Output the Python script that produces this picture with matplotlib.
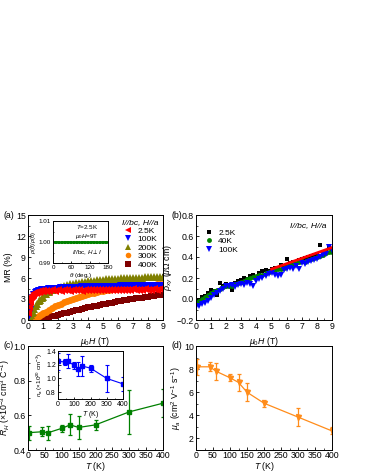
import matplotlib
matplotlib.use("Agg")
import matplotlib.pyplot as plt
from matplotlib.ticker import MultipleLocator, AutoMinorLocator

plt.rcParams['font.family'] = ['Liberation Sans', 'DejaVu Sans']
plt.rcParams['mathtext.fontset'] = 'custom'
plt.rcParams['mathtext.rm'] = 'Liberation Sans'
plt.rcParams['mathtext.it'] = 'Liberation Sans:italic'
plt.rcParams['font.size'] = 6.3

# ---- (a) MR vs field ----
H_mr = [0.02, 0.05, 0.1, 0.15, 0.2, 0.25, 0.3, 0.4, 0.5, 0.6, 0.7, 0.8, 0.9, 1.0,
        1.2, 1.4, 1.6, 1.8, 2.0, 2.2, 2.4, 2.6, 2.8, 3.0,
        3.2, 3.4, 3.6, 3.8, 4.0, 4.2, 4.4, 4.6, 4.8, 5.0,
        5.2, 5.4, 5.6, 5.8, 6.0, 6.2, 6.4, 6.6, 6.8, 7.0,
        7.2, 7.4, 7.6, 7.8, 8.0, 8.2, 8.4, 8.6, 8.8, 9.0]
mr_2p5K = [1.0, 1.9, 2.6, 3.0, 3.3, 3.5, 3.6, 3.8, 3.9, 4.0, 4.05, 4.1, 4.1, 4.15,
           4.2, 4.15, 4.25, 4.2, 4.3, 4.2, 4.25, 4.3, 4.2, 4.3,
           4.25, 4.3, 4.2, 4.35, 4.25, 4.3, 4.25, 4.35, 4.3, 4.25,
           4.35, 4.3, 4.3, 4.35, 4.25, 4.35, 4.3, 4.35, 4.3, 4.4,
           4.3, 4.35, 4.3, 4.4, 4.35, 4.3, 4.4, 4.35, 4.4, 4.35]
mr_100K = [0.3, 0.8, 1.5, 2.1, 2.6, 2.9, 3.2, 3.6, 3.85, 4.0, 4.1, 4.2, 4.25, 4.3,
           4.35, 4.4, 4.45, 4.48, 4.5, 4.52, 4.55, 4.57, 4.58, 4.6,
           4.62, 4.63, 4.65, 4.66, 4.67, 4.68, 4.7, 4.71, 4.72, 4.73,
           4.74, 4.75, 4.76, 4.77, 4.78, 4.79, 4.8, 4.8, 4.81, 4.82,
           4.83, 4.84, 4.85, 4.86, 4.86, 4.87, 4.88, 4.89, 4.9, 4.9]
mr_200K = [0.0, 0.1, 0.3, 0.5, 0.7, 0.95, 1.2, 1.6, 2.0, 2.35, 2.65, 2.9, 3.15, 3.35,
           3.7, 4.0, 4.25, 4.45, 4.6, 4.75, 4.88, 5.0, 5.1, 5.2,
           5.28, 5.35, 5.42, 5.48, 5.54, 5.6, 5.64, 5.68, 5.72, 5.76,
           5.8, 5.83, 5.86, 5.89, 5.92, 5.94, 5.96, 5.98, 6.0, 6.02,
           6.04, 6.05, 6.07, 6.08, 6.1, 6.11, 6.12, 6.13, 6.14, 6.15]
mr_300K = [0.0, 0.0, 0.02, 0.04, 0.06, 0.09, 0.12, 0.2, 0.3, 0.42, 0.55, 0.68, 0.82, 0.95,
           1.2, 1.45, 1.7, 1.95, 2.15, 2.35, 2.55, 2.72, 2.9, 3.05,
           3.2, 3.33, 3.46, 3.58, 3.7, 3.8, 3.9, 3.99, 4.08, 4.16,
           4.24, 4.31, 4.38, 4.45, 4.51, 4.57, 4.62, 4.68, 4.73, 4.78,
           4.82, 4.87, 4.91, 4.95, 4.99, 5.03, 5.06, 5.1, 5.13, 5.16]
mr_400K = [0.0, 0.0, 0.0, 0.0, 0.01, 0.01, 0.02, 0.03, 0.05, 0.08, 0.11, 0.14, 0.18, 0.22,
           0.31, 0.41, 0.51, 0.62, 0.73, 0.84, 0.95, 1.06, 1.17, 1.28,
           1.39, 1.5, 1.6, 1.7, 1.8, 1.9, 1.98, 2.07, 2.16, 2.25,
           2.33, 2.41, 2.49, 2.57, 2.65, 2.72, 2.8, 2.87, 2.94, 3.01,
           3.08, 3.14, 3.21, 3.27, 3.34, 3.4, 3.47, 3.53, 3.58, 3.64]

# inset (a): angular dependence
theta = [0, 5, 10, 15, 20, 25, 30, 35, 40, 45, 50, 55, 60, 65, 70, 75, 80, 85, 90,
         95, 100, 105, 110, 115, 120, 125, 130, 135, 140, 145, 150, 155, 160, 165, 170, 175, 180]
rho_theta = [1.0, 1.0001, 0.9999, 1.0002, 1.0, 0.9998, 1.0001, 1.0, 0.9999, 1.0002,
             1.0, 1.0001, 0.9998, 1.0, 1.0002, 0.9999, 1.0, 1.0001, 0.9999,
             1.0, 1.0002, 0.9998, 1.0, 1.0001, 0.9999, 1.0, 1.0002, 0.9999, 1.0,
             1.0001, 0.9998, 1.0, 1.0001, 0.9999, 1.0002, 1.0, 1.0]

# ---- (b) Hall resistivity ----
H_hall = [0.0, 0.2, 0.4, 0.6, 0.8, 1.0, 1.2, 1.4, 1.6, 1.8,
          2.0, 2.2, 2.4, 2.6, 2.8, 3.0, 3.2, 3.4, 3.6, 3.8,
          4.0, 4.2, 4.4, 4.6, 4.8, 5.0, 5.2, 5.4, 5.6, 5.8,
          6.0, 6.2, 6.4, 6.6, 6.8, 7.0, 7.2, 7.4, 7.6, 7.8,
          8.0, 8.2, 8.4, 8.6, 8.8, 9.0]
rxy_2p5K = [-0.02, -0.01, 0.02, 0.03, 0.06, 0.09, 0.08, 0.04, 0.15, 0.12,
            0.14, 0.13, 0.09, 0.15, 0.17, 0.18, 0.20, 0.19, 0.22, 0.23,
            0.21, 0.25, 0.27, 0.28, 0.27, 0.29, 0.30, 0.30, 0.32, 0.31,
            0.38, 0.34, 0.35, 0.33, 0.37, 0.38, 0.39, 0.40, 0.41, 0.42,
            0.43, 0.51, 0.44, 0.46, 0.49, 0.48]
rxy_40K = [-0.03, -0.02, 0.00, 0.02, 0.04, 0.06, 0.08, 0.09, 0.10, 0.11,
           0.12, 0.12, 0.12, 0.14, 0.15, 0.16, 0.17, 0.19, 0.20, 0.21,
           0.22, 0.23, 0.23, 0.25, 0.26, 0.27, 0.28, 0.29, 0.29, 0.30,
           0.31, 0.32, 0.33, 0.34, 0.35, 0.36, 0.35, 0.37, 0.38, 0.39,
           0.40, 0.41, 0.42, 0.44, 0.45, 0.45]
rxy_100K = [-0.08, -0.07, -0.05, -0.04, -0.02, 0.01, 0.04, 0.06, 0.08, 0.10,
            0.12, 0.12, 0.13, 0.11, 0.13, 0.14, 0.13, 0.15, 0.14, 0.12,
            0.17, 0.19, 0.20, 0.22, 0.24, 0.25, 0.23, 0.22, 0.23, 0.28,
            0.29, 0.30, 0.29, 0.31, 0.29, 0.34, 0.33, 0.35, 0.36, 0.37,
            0.38, 0.40, 0.42, 0.43, 0.50, 0.47]
fit_H = [5.0, 9.0]
fit_rxy = [0.285, 0.49]

# ---- (c), (d) temperature dependence ----
T = [2.5, 40, 60, 100, 125, 150, 200, 300, 400]
RH = [0.50, 0.505, 0.50, 0.525, 0.545, 0.53, 0.545, 0.62, 0.67]
RH_err = [0.04, 0.025, 0.04, 0.02, 0.06, 0.065, 0.03, 0.125, 0.08]
na = [1.25, 1.24, 1.25, 1.19, 1.14, 1.18, 1.15, 1.00, 0.92]
na_err = [0.12, 0.05, 0.1, 0.05, 0.1, 0.15, 0.05, 0.2, 0.1]
mu = [8.2, 8.2, 7.8, 7.25, 6.85, 6.0, 5.05, 3.85, 2.65]
mu_err = [0.7, 0.4, 0.7, 0.3, 0.75, 0.8, 0.3, 0.8, 0.3]

W, Hpx = 366, 473
fig = plt.figure(figsize=(W / 100, Hpx / 100), dpi=100)


def box(x0, y0, x1, y1):
    # pixel box -> figure fraction rect
    return [x0 / W, 1 - y1 / Hpx, (x1 - x0) / W, (y1 - y0) / Hpx]


def style(ax, size=6.3):
    ax.tick_params(which='both', direction='in', top=False, right=False, labelsize=size, pad=1.5)
    ax.tick_params(which='major', length=2.5, width=0.6)
    ax.tick_params(which='minor', length=1.3, width=0.5)
    ax.xaxis.set_minor_locator(AutoMinorLocator(2))
    ax.yaxis.set_minor_locator(AutoMinorLocator(2))
    for s in ax.spines.values():
        s.set_linewidth(0.7)


# (a)
axa = fig.add_axes(box(28, 215, 163, 320))
ms = 5.0
axa.plot(H_mr, mr_400K, 's', color='#800000', ms=ms - 0.4, mew=0, label='400K')
axa.plot(H_mr, mr_300K, 'o', color='#ff8000', ms=ms, mew=0, label='300K')
axa.plot(H_mr, mr_200K, '^', color='#808000', ms=ms + 0.5, mew=0, label='200K')
axa.plot(H_mr, mr_100K, 'v', color='#0000ff', ms=ms + 0.5, mew=0, label='100K')
axa.plot(H_mr, mr_2p5K, '<', color='#ff0000', ms=ms + 0.7, mew=0, label='2.5K')
axa.set_xlim(0, 9)
axa.set_ylim(0, 15)
axa.xaxis.set_major_locator(MultipleLocator(1))
axa.yaxis.set_major_locator(MultipleLocator(3))
style(axa)
axa.set_xlabel(r'$\mu_0H$ (T)', labelpad=3)
axa.set_ylabel('MR (%)', labelpad=2)
h, l = axa.get_legend_handles_labels()
leg = axa.legend(h[::-1], l[::-1], loc='upper right', frameon=False, fontsize=6,
                 title='I//bc, H//a', title_fontproperties={'style': 'italic', 'size': 6.1},
                 handletextpad=0.6, labelspacing=0.08, borderaxespad=0.3, handlelength=1.0,
                 markerscale=0.8, borderpad=0.2)
leg.set_zorder(10)
fig.text(3 / W, 1 - 215 / Hpx, '(a)', fontsize=6.3, va='center')

ia = fig.add_axes(box(53, 221, 108, 263))
ia.plot(theta, rho_theta, '-o', color='#008000', ms=1.2, lw=0.8)
ia.set_xlim(0, 180)
ia.set_ylim(0.99, 1.01)
ia.xaxis.set_major_locator(MultipleLocator(60))
ia.set_yticks([0.99, 1.00, 1.01])
style(ia, 4.5)
ia.tick_params(which='major', length=1.8)
ia.tick_params(which='minor', length=1)
ia.set_xlabel(r'$\theta$ (deg.)', fontsize=4.5, labelpad=0.5)
ia.set_ylabel(r'$\rho(\theta)/\rho(0)$', fontsize=4, labelpad=0.5)
ia.text(0.62, 0.8, r'$T$=2.5K', transform=ia.transAxes, fontsize=4.5, ha='center')
ia.text(0.62, 0.6, r'$\mu_0H$=9T', transform=ia.transAxes, fontsize=4.5, ha='center')
ia.text(0.62, 0.2, r'$I$//bc, $H\perp I$', transform=ia.transAxes, fontsize=4.5, ha='center')

# (b)
axb = fig.add_axes(box(196, 215, 332, 320))
axb.plot(H_hall, rxy_2p5K, 's', color='black', ms=3.2, mew=0, label='2.5K')
axb.plot(H_hall, rxy_40K, 'o', color='#008000', ms=3.5, mew=0, label='40K')
axb.plot(H_hall, rxy_100K, 'v', color='#0000ff', ms=3.8, mew=0, label='100K')
axb.plot(fit_H, fit_rxy, '-', color='#ff0000', lw=2)
axb.set_xlim(0, 9)
axb.set_ylim(-0.2, 0.8)
axb.xaxis.set_major_locator(MultipleLocator(1))
axb.yaxis.set_major_locator(MultipleLocator(0.2))
style(axb)
axb.set_xlabel(r'$\mu_0H$ (T)', labelpad=3)
axb.set_ylabel(r'$\rho_{xy}$ ($\mu\Omega$ cm)', labelpad=1)
axb.legend(loc='upper left', frameon=False, fontsize=6, handletextpad=0.6,
           labelspacing=0.08, borderaxespad=0.2, bbox_to_anchor=(0.04, 0.9),
           handlelength=1.0, borderpad=0.2)
axb.text(0.96, 0.9, 'I//bc, H//a', transform=axb.transAxes, ha='right', va='center',
         fontsize=6.1, style='italic')
fig.text(172 / W, 1 - 215 / Hpx, '(b)', fontsize=6.3, va='center')

# (c)
axc = fig.add_axes(box(28, 346, 163, 450))
axc.errorbar(T, RH, yerr=RH_err, fmt='-s', color='#008000', ms=3.2, lw=0.9,
             elinewidth=0.9, capsize=1.5, capthick=0.9)
axc.set_xlim(0, 400)
axc.set_ylim(0.4, 1.0)
axc.xaxis.set_major_locator(MultipleLocator(50))
axc.yaxis.set_major_locator(MultipleLocator(0.2))
style(axc)
axc.tick_params(axis='x', pad=1)
axc.set_xlabel(r'$T$ (K)', labelpad=0)
axc.set_ylabel(r'$R_H$ ($\times$10$^{-3}$ cm$^3$ C$^{-1}$)', labelpad=1)
fig.text(3 / W, 1 - 346 / Hpx, '(c)', fontsize=6.3, va='center')

ic = fig.add_axes(box(58, 351, 123, 399))
ic.errorbar(T, na, yerr=na_err, fmt='-s', color='#0000ff', ms=2.4, lw=0.8,
            elinewidth=0.8, capsize=1.3, capthick=0.8)
ic.set_xlim(0, 400)
ic.set_ylim(0.7, 1.4)
ic.xaxis.set_major_locator(MultipleLocator(100))
ic.yaxis.set_major_locator(MultipleLocator(0.2))
style(ic, 5)
ic.tick_params(which='major', length=1.8)
ic.tick_params(which='minor', length=1)
ic.set_xlabel(r'$T$ (K)', fontsize=5, labelpad=0.5)
ic.set_ylabel(r'$n_a$ ($\times$10$^{20}$ cm$^{-3}$)', fontsize=4.5, labelpad=0.5)

# (d)
axd = fig.add_axes(box(196, 346, 332, 450))
axd.errorbar(T, mu, yerr=mu_err, fmt='-v', color='#ff8c1a', ms=3.6, lw=0.9,
             elinewidth=0.9, capsize=1.5, capthick=0.9)
axd.set_xlim(0, 400)
axd.set_ylim(1, 10)
axd.xaxis.set_major_locator(MultipleLocator(50))
axd.yaxis.set_major_locator(MultipleLocator(2))
style(axd)
axd.tick_params(axis='x', pad=1)
axd.set_xlabel(r'$T$ (K)', labelpad=0)
axd.set_ylabel(r'$\mu_a$ (cm$^2$ V$^{-1}$ s$^{-1}$)', labelpad=1)
fig.text(172 / W, 1 - 346 / Hpx, '(d)', fontsize=6.3, va='center')

fig.savefig('out.png', dpi=100)
